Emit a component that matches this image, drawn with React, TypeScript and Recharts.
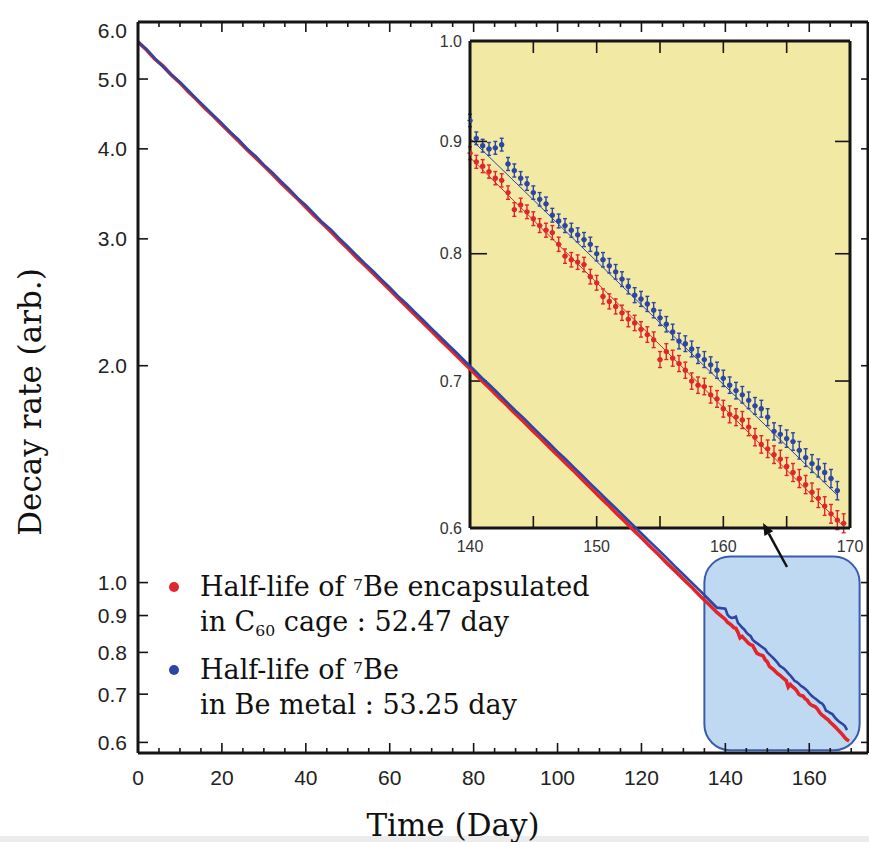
import React from 'react';
import {
  ComposedChart,
  Line,
  Scatter,
  ErrorBar,
  XAxis,
  YAxis,
  CartesianGrid,
  ReferenceArea,
  Legend,
} from 'recharts';

// days 0..138 (every 2nd day) shown only in the main panel
const earlyDays = [
  0, 2, 4, 6, 8, 10, 12, 14, 16, 18, 20, 22, 24, 26, 28, 30, 32, 34, 36, 38,
  40, 42, 44, 46, 48, 50, 52, 54, 56, 58, 60, 62, 64, 66, 68, 70, 72, 74, 76, 78,
  80, 82, 84, 86, 88, 90, 92, 94, 96, 98, 100, 102, 104, 106, 108, 110, 112, 114, 116, 118,
  120, 122, 124, 126, 128, 130, 132, 134, 136, 138,
];

const redEarly = [
  5.63, 5.49, 5.33, 5.21, 5.06, 4.94, 4.8, 4.68, 4.55, 4.44,
  4.32, 4.21, 4.1, 3.99, 3.89, 3.79, 3.69, 3.59, 3.5, 3.41,
  3.32, 3.23, 3.15, 3.07, 2.985, 2.91, 2.83, 2.76, 2.687, 2.617,
  2.549, 2.481, 2.418, 2.354, 2.293, 2.234, 2.174, 2.119, 2.063, 2.009,
  1.957, 1.905, 1.857, 1.807, 1.761, 1.714, 1.671, 1.626, 1.585, 1.542,
  1.503, 1.463, 1.426, 1.388, 1.352, 1.316, 1.283, 1.248, 1.217, 1.184,
  1.154, 1.123, 1.095, 1.065, 1.038, 1.011, 0.985, 0.958, 0.934, 0.909,
];

const blueEarly = [
  5.63, 5.5, 5.34, 5.2, 5.07, 4.95, 4.82, 4.69, 4.57, 4.45,
  4.34, 4.22, 4.12, 4.0, 3.91, 3.8, 3.71, 3.61, 3.52, 3.42,
  3.34, 3.25, 3.16, 3.09, 3.004, 2.928, 2.851, 2.776, 2.707, 2.636,
  2.569, 2.498, 2.438, 2.374, 2.313, 2.252, 2.195, 2.137, 2.083, 2.027,
  1.977, 1.923, 1.876, 1.827, 1.779, 1.732, 1.69, 1.645, 1.602, 1.561,
  1.52, 1.482, 1.443, 1.406, 1.369, 1.334, 1.299, 1.266, 1.233, 1.201,
  1.17, 1.14, 1.111, 1.082, 1.053, 1.026, 1.0, 0.974, 0.948, 0.923,
];

// days 140..169.5, shown in both panels (zoomed in the yellow inset)
const insetDays = [
  140, 140.5, 141, 141.5, 142, 142.5, 143, 143.5, 144, 144.5,
  145, 145.5, 146, 146.5, 147, 147.5, 148, 148.5, 149, 149.5,
  150, 150.5, 151, 151.5, 152, 152.5, 153, 153.5, 154, 154.5,
  155, 155.5, 156, 156.5, 157, 157.5, 158, 158.5, 159, 159.5,
  160, 160.5, 161, 161.5, 162, 162.5, 163, 163.5, 164, 164.5,
  165, 165.5, 166, 166.5, 167, 167.5, 168, 168.5, 169, 169.5,
];

const redInset = [
  0.889, 0.881, 0.877, 0.872, 0.866, 0.864, 0.853, 0.838, 0.842, 0.836,
  0.83, 0.824, 0.82, 0.818, 0.808, 0.798, 0.795, 0.793, 0.791, 0.781,
  0.776, 0.765, 0.761, 0.757, 0.752, 0.747, 0.744, 0.739, 0.735, 0.731,
  0.716, 0.722, 0.717, 0.713, 0.708, 0.7, 0.697, 0.696, 0.69, 0.687,
  0.68, 0.676, 0.674, 0.672, 0.667, 0.66, 0.655, 0.652, 0.648, 0.645,
  0.64, 0.636, 0.632, 0.628, 0.623, 0.619, 0.614, 0.609, 0.605, 0.603,
];

const blueInset = [
  0.92, 0.903, 0.896, 0.893, 0.894, 0.897, 0.879, 0.873, 0.866, 0.861,
  0.853, 0.847, 0.843, 0.833, 0.828, 0.824, 0.82, 0.816, 0.812, 0.808,
  0.8, 0.795, 0.79, 0.785, 0.779, 0.773, 0.766, 0.763, 0.759, 0.754,
  0.748, 0.743, 0.737, 0.73, 0.728, 0.724, 0.719, 0.716, 0.712, 0.708,
  0.702, 0.697, 0.693, 0.69, 0.686, 0.682, 0.68, 0.674, 0.664, 0.662,
  0.659, 0.657, 0.651, 0.646, 0.642, 0.639, 0.636, 0.632, 0.624,
];

// fitted decay lines in the inset (end points)
const redFitDays = [140, 169.5];
const redFit = [0.885, 0.601];
const blueFitDays = [140, 169];
const blueFit = [0.903, 0.621];

const rateError = 0.006;
const dayError = 0.2;

const mainXTicks = [
  0, 5, 10, 15, 20, 25, 30, 35, 40, 45, 50, 55, 60, 65, 70, 75, 80, 85,
  90, 95, 100, 105, 110, 115, 120, 125, 130, 135, 140, 145, 150, 155, 160, 165, 170,
];
const mainYTicks = [0.6, 0.7, 0.8, 0.9, 1, 2, 3, 4, 5, 6];
const insetXTicks = [140, 145, 150, 155, 160, 165, 170];
const insetYTicks = [0.6, 0.7, 0.8, 0.9, 1];

const RED = '#e0262d';
const BLUE = '#2c46a6';
const YELLOW = '#f2eaa4';
const INK = '#151515';
const SANS = '"Liberation Sans", Arial, Helvetica, sans-serif';
const SERIF = '"DejaVu Serif", "Liberation Serif", serif';

const toPoints = (days: number[], rates: number[]) =>
  rates.map((rate, i) => ({ day: days[i], rate }));

const redMain = toPoints([...earlyDays, ...insetDays], [...redEarly, ...redInset]);
const blueMain = toPoints([...earlyDays, ...insetDays], [...blueEarly, ...blueInset]);

const withErrors = (days: number[], rates: number[]) =>
  rates.map((rate, i) => ({ day: days[i], rate, errY: rateError, errX: dayError }));

const redZoom = withErrors(insetDays, redInset);
const blueZoom = withErrors(insetDays, blueInset);
const redFitLine = toPoints(redFitDays, redFit);
const blueFitLine = toPoints(blueFitDays, blueFit);

// ---- main panel ticks (all pointing inwards) ----
const MainBottomTick = ({ x, y, payload }: any) => {
  const v = payload.value;
  const major = v % 20 === 0;
  return (
    <g>
      <line x1={x} x2={x} y1={y} y2={y - (major ? 10 : 5)} stroke={INK} strokeWidth={1.6} />
      {major && (
        <text x={x} y={y + 32} textAnchor="middle" fontSize={21} fill="#222" fontFamily={SANS}>
          {v}
        </text>
      )}
    </g>
  );
};

const MainTopTick = ({ x, y, payload }: any) => {
  const major = payload.value % 20 === 0;
  return <line x1={x} x2={x} y1={y} y2={y + (major ? 10 : 5)} stroke={INK} strokeWidth={1.6} />;
};

const MainLeftTick = ({ x, y, payload }: any) => (
  <g>
    <line x1={x} x2={x + 10} y1={y} y2={y} stroke={INK} strokeWidth={1.6} />
    <text
      x={x - 11}
      y={payload.value === 6 ? y + 8 : y}
      dy="0.36em"
      textAnchor="end"
      fontSize={21}
      fill="#222"
      fontFamily={SANS}
    >
      {payload.value.toFixed(1)}
    </text>
  </g>
);

const MainRightTick = ({ x, y }: any) => (
  <line x1={x} x2={x - 7} y1={y} y2={y} stroke={INK} strokeWidth={1.6} />
);

// ---- inset ticks ----
const isInnerX = (v: number) => v !== 140 && v !== 170;
const isInnerY = (v: number) => v !== 0.6 && v !== 1;

const InsetBottomTick = ({ x, y, payload }: any) => {
  const v = payload.value;
  return (
    <g>
      {isInnerX(v) && <line x1={x} x2={x} y1={y} y2={y - 12} stroke={INK} strokeWidth={1.6} />}
      {v % 10 === 0 && (
        <text x={x} y={y + 24} textAnchor="middle" fontSize={16} fill="#333" fontFamily={SANS}>
          {v}
        </text>
      )}
    </g>
  );
};

const InsetTopTick = ({ x, y, payload }: any) =>
  isInnerX(payload.value) ? (
    <line x1={x} x2={x} y1={y} y2={y + 12} stroke={INK} strokeWidth={1.6} />
  ) : (
    <g />
  );

const InsetLeftTick = ({ x, y, payload }: any) => (
  <g>
    {isInnerY(payload.value) && (
      <line x1={x} x2={x + 17} y1={y} y2={y} stroke={INK} strokeWidth={1.6} />
    )}
    <text x={x - 8} y={y} dy="0.36em" textAnchor="end" fontSize={16} fill="#333" fontFamily={SANS}>
      {payload.value.toFixed(1)}
    </text>
  </g>
);

const InsetRightTick = ({ x, y, payload }: any) =>
  isInnerY(payload.value) ? (
    <line x1={x} x2={x - 15} y1={y} y2={y} stroke={INK} strokeWidth={1.6} />
  ) : (
    <g />
  );

const HighlightBox = (p: any) => (
  <rect
    x={p.x}
    y={p.y}
    width={p.width}
    height={p.height}
    rx={26}
    ry={26}
    fill="#c0d9f2"
    stroke="#3a5cae"
    strokeWidth={2}
  />
);

function supStyle(): React.CSSProperties {
  return { fontSize: '0.58em', position: 'relative', top: '-0.15em', verticalAlign: 'top', lineHeight: '35px' };
}
function subStyle(): React.CSSProperties {
  return { fontSize: '0.58em', position: 'relative', top: '0.55em', verticalAlign: 'top', lineHeight: '35px' };
}

const legendEntries = [
  {
    color: RED,
    lines: [
      <>Half-life of <sup style={supStyle()}>7</sup>Be encapsulated</>,
      <>in C<sub style={subStyle()}>60</sub> cage : 52.47 day</>,
    ],
  },
  {
    color: BLUE,
    lines: [
      <>Half-life of <sup style={supStyle()}>7</sup>Be</>,
      <>in Be metal : 53.25 day</>,
    ],
  },
];

const HalfLifeLegend = () => (
  <div style={{ fontFamily: SERIF, fontSize: 27, color: '#111', lineHeight: '35px', textAlign: 'left' }}>
    {legendEntries.map((e, i) => (
      <div key={i} style={{ position: 'relative', paddingLeft: 40, marginTop: i ? 13 : 0 }}>
        <span
          style={{
            position: 'absolute',
            left: 9,
            top: 13,
            width: 10,
            height: 10,
            borderRadius: 5,
            background: e.color,
          }}
        />
        {e.lines.map((l, j) => (
          <div key={j} style={{ height: 35, whiteSpace: 'nowrap' }}>
            {l}
          </div>
        ))}
      </div>
    ))}
  </div>
);

const axisStroke = { stroke: INK, strokeWidth: 3 };

const App: React.FC = () => {
  return (
    <div style={{ position: 'absolute', left: 0, top: 0, width: 869, height: 842, background: '#fff', overflow: 'hidden' }}>
      <div style={{ position: 'absolute', left: 0, top: 836, width: 869, height: 6, background: '#ececec' }} />

      {/* zoomed inset, drawn under the main panel so the main trace crosses it */}
      <div style={{ position: 'absolute', left: 420, top: 30 }}>
        <ComposedChart width={449} height={540} margin={{ top: 10, right: 18, bottom: 0, left: 0 }}>
          <CartesianGrid fill={YELLOW} horizontal={false} vertical={false} />
          <XAxis
            dataKey="day"
            type="number"
            domain={[140, 170]}
            allowDataOverflow
            ticks={insetXTicks}
            interval={0}
            height={42}
            tickSize={0}
            tickMargin={0}
            tickLine={false}
            axisLine={axisStroke}
            tick={<InsetBottomTick />}
          />
          <XAxis
            xAxisId="top"
            orientation="top"
            dataKey="day"
            type="number"
            domain={[140, 170]}
            allowDataOverflow
            ticks={insetXTicks}
            interval={0}
            height={1}
            tickSize={0}
            tickMargin={0}
            tickLine={false}
            axisLine={axisStroke}
            tick={<InsetTopTick />}
          />
          <YAxis
            dataKey="rate"
            type="number"
            scale="log"
            domain={[0.6, 1]}
            allowDataOverflow
            ticks={insetYTicks}
            interval={0}
            width={50}
            tickSize={0}
            tickMargin={0}
            tickLine={false}
            axisLine={axisStroke}
            tick={<InsetLeftTick />}
          />
          <YAxis
            yAxisId="right"
            orientation="right"
            dataKey="rate"
            type="number"
            scale="log"
            domain={[0.6, 1]}
            allowDataOverflow
            ticks={insetYTicks}
            interval={0}
            width={1}
            tickSize={0}
            tickMargin={0}
            tickLine={false}
            axisLine={axisStroke}
            tick={<InsetRightTick />}
          />
          <Line data={redFitLine} dataKey="rate" stroke={RED} strokeWidth={1} dot={false} isAnimationActive={false} />
          <Line data={blueFitLine} dataKey="rate" stroke={BLUE} strokeWidth={1} dot={false} isAnimationActive={false} />
          <Scatter
            data={redZoom}
            dataKey="rate"
            fill={RED}
            isAnimationActive={false}
            shape={(p: any) => <circle cx={p.cx} cy={p.cy} r={2.6} fill={RED} />}
          >
            <ErrorBar dataKey="errY" direction="y" width={2} stroke={RED} strokeWidth={1.4} />
            <ErrorBar dataKey="errX" direction="x" width={0} stroke={RED} strokeWidth={1.4} />
          </Scatter>
          <Scatter
            data={blueZoom}
            dataKey="rate"
            fill={BLUE}
            isAnimationActive={false}
            shape={(p: any) => <circle cx={p.cx} cy={p.cy} r={2.6} fill={BLUE} />}
          >
            <ErrorBar dataKey="errY" direction="y" width={2} stroke={BLUE} strokeWidth={1.4} />
            <ErrorBar dataKey="errX" direction="x" width={0} stroke={BLUE} strokeWidth={1.4} />
          </Scatter>
        </ComposedChart>
      </div>

      {/* main panel */}
      <div style={{ position: 'absolute', left: 0, top: 0, pointerEvents: 'none' }}>
        <ComposedChart width={869} height={842} margin={{ top: 21, right: 0, bottom: 0, left: 0 }}>
          <ReferenceArea x1={135} x2={172} y1={0.585} y2={1.087} shape={<HighlightBox />} />
          <XAxis
            dataKey="day"
            type="number"
            domain={[0, 174]}
            allowDataOverflow
            ticks={mainXTicks}
            interval={0}
            height={89}
            tickSize={0}
            tickMargin={0}
            tickLine={false}
            axisLine={axisStroke}
            tick={<MainBottomTick />}
          />
          <XAxis
            xAxisId="top"
            orientation="top"
            dataKey="day"
            type="number"
            domain={[0, 174]}
            allowDataOverflow
            ticks={mainXTicks}
            interval={0}
            height={1}
            tickSize={0}
            tickMargin={0}
            tickLine={false}
            axisLine={axisStroke}
            tick={<MainTopTick />}
          />
          <YAxis
            dataKey="rate"
            type="number"
            scale="log"
            domain={[0.58, 6]}
            allowDataOverflow
            ticks={mainYTicks}
            interval={0}
            width={138}
            tickSize={0}
            tickMargin={0}
            tickLine={false}
            axisLine={axisStroke}
            tick={<MainLeftTick />}
          />
          <YAxis
            yAxisId="right"
            orientation="right"
            dataKey="rate"
            type="number"
            scale="log"
            domain={[0.58, 6]}
            allowDataOverflow
            ticks={mainYTicks}
            interval={0}
            width={1}
            tickSize={0}
            tickMargin={0}
            tickLine={false}
            axisLine={axisStroke}
            tick={<MainRightTick />}
          />
          <Line
            data={redMain}
            dataKey="rate"
            name="C60"
            stroke={RED}
            strokeWidth={3.6}
            dot={false}
            isAnimationActive={false}
          />
          <Line
            data={blueMain}
            dataKey="rate"
            name="Be metal"
            stroke={BLUE}
            strokeWidth={2.6}
            dot={false}
            isAnimationActive={false}
          />
          <Legend
            layout="vertical"
            align="center"
            verticalAlign="middle"
            content={<HalfLifeLegend />}
            wrapperStyle={{ left: 160, top: 569, width: 470, height: 'auto' }}
          />
        </ComposedChart>
      </div>

      {/* axis titles and the pointer arrow */}
      <svg width={869} height={842} style={{ position: 'absolute', left: 0, top: 0, pointerEvents: 'none' }}>
        <text x={453} y={836} textAnchor="middle" fontSize={31} fill="#111" fontFamily={SERIF}>
          Time (Day)
        </text>
        <text
          x={41}
          y={402}
          transform="rotate(-90 41 402)"
          textAnchor="middle"
          fontSize={31}
          fill="#111"
          fontFamily={SERIF}
        >
          Decay rate (arb.)
        </text>
        <line x1={787} y1={567} x2={768.8} y2={533.6} stroke="#111" strokeWidth={2.5} />
        <polygon points="763,523 773.2,531.2 764.4,536" fill="#111" />
      </svg>
    </div>
  );
};

export default App;
